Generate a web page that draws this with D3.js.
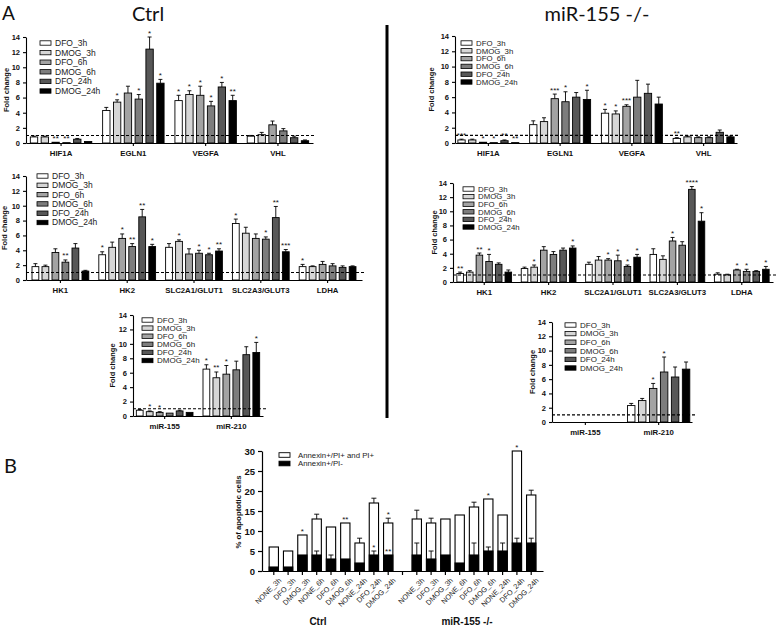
<!DOCTYPE html>
<html><head><meta charset="utf-8">
<script src="https://cdn.jsdelivr.net/npm/d3@7"></script>
<style>
body{margin:0;background:#fff;}
svg{display:block;font-family:"Liberation Sans",Arial,sans-serif;}
</style></head>
<body>
<svg id="chart" width="784" height="628"></svg>
<script>
// ---------- DATA ----------
const series = ["DFO_3h","DMOG_3h","DFO_6h","DMOG_6h","DFO_24h","DMOG_24h"];
const seriesColors = ["#ffffff","#d6d6d6","#a3a3a3","#7d7d7d","#575757","#000000"];
const foldTicks = [0,2,4,6,8,10,12,14];

// Ctrl – hypoxia genes
const ctrlHypoxiaGenes = ["HIF1A","EGLN1","VEGFA","VHL"];
const ctrlHypoxiaValues = [[0.8,0.8,0.1,0.05,0.5,0.2],[4.3,5.4,6.6,5.8,12.4,7.9],[5.6,6.4,6.3,4.9,7.4,5.6],[0.9,1.1,2.4,1.6,0.7,0.3]];
const ctrlHypoxiaErrors = [[0.1,0.1,0,0,0.1,0],[0.4,0.3,0.9,0.6,1.6,0.5],[0.7,0.5,1.2,0.6,0.6,0.7],[0.1,0.3,0.5,0.3,0.2,0.1]];
const ctrlHypoxiaStars = [["","","**","**","",""],["","*","","*","*","*"],["*","*","*","*","*","**"],["","","","","",""]];

// Ctrl – glycolysis genes
const glycolysisGenes = ["HK1","HK2","SLC2A1/GLUT1","SLC2A3/GLUT3","LDHA"];
const ctrlGlycolysisValues = [[1.8,1.8,3.7,2.4,4.3,1.2],[3.4,4.4,5.6,4.5,8.5,4.5],[4.4,5.2,3.5,3.6,3.4,3.9],[7.6,6.3,5.6,5.5,8.4,3.8],[1.8,1.8,2.1,1.9,1.7,1.8]];
const ctrlGlycolysisErrors = [[0.4,0.2,0.5,0.3,0.6,0.1],[0.4,0.7,0.6,0.4,1.0,0.3],[0.5,0.2,0.7,0.4,0.2,0.3],[0.6,0.8,0.6,0.3,1.5,0.3],[0.3,0.1,0.4,0.3,0.2,0.1]];
const ctrlGlycolysisStars = [["","","","**","",""],["*","","*","**","**","*"],["","*","","*","*","**"],["*","","","*","**","***"],["*","","","","",""]];

// Ctrl – microRNAs
const mirNames = ["miR-155","miR-210"];
const ctrlMirValues = [[0.8,0.6,0.5,0.4,0.7,0.5],[6.5,5.3,5.8,6.4,8.5,8.8]];
const ctrlMirErrors = [[0.1,0.1,0.1,0,0.1,0],[0.6,0.8,1.2,1.2,1.1,1.4]];
const ctrlMirStars = [["","*","*","","",""],["*","**","*","","","*"]];

// miR-155 -/- – hypoxia genes
const koHypoxiaValues = [[0.4,0.4,0.1,0.05,0.3,0.05],[2.4,2.8,5.8,5.4,6.0,5.7],[3.9,3.8,4.8,6.0,6.5,5.1],[0.6,0.8,0.7,0.7,1.4,0.8]];
const koHypoxiaErrors = [[0.1,0.1,0,0,0.1,0],[0.5,0.5,0.6,1.3,0.6,1.2],[0.5,0.4,0.2,2.2,1.2,0.9],[0.1,0.1,0.1,0.1,0.3,0.1]];
const koHypoxiaStars = [["***","","*","*","**","**"],["","","***","*","","*"],["*","*","***","","",""],["**","","","","",""]];

// miR-155 -/- – glycolysis genes
const koGlycolysisValues = [[1.2,1.4,3.8,2.9,2.5,1.4],[1.9,2.1,4.5,3.9,4.5,4.8],[2.5,3.1,3.1,3.0,2.2,3.5],[3.9,3.2,5.8,5.2,13.1,8.6],[1.1,1.0,1.7,1.5,1.5,1.8]];
const koGlycolysisErrors = [[0.2,0.2,0.3,1.0,0.2,0.3],[0.2,0.3,0.5,0.4,0.3,0.3],[0.3,0.5,0.2,0.8,0.2,0.4],[0.8,0.5,0.5,0.5,0.4,1.2],[0.2,0.1,0.1,0.3,0.1,0.4]];
const koGlycolysisStars = [["**","","**","*","",""],["","*","","","","*"],["","","*","*","*","*"],["","","*","","****","*"],["","","*","*","","*"]];

// miR-155 -/- – microRNAs (miR-155 not detected)
const koMirValues = [[null,null,null,null,null,null],[2.3,3.0,4.7,7.0,6.3,7.4]];
const koMirErrors = [[0,0,0,0,0,0],[0.3,0.3,0.7,2.1,1.4,1.0]];
const koMirStars = [["","","","","",""],["","","*","*","",""]];

// Panel B – apoptosis
const apoConditions = ["NONE_3h","DFO_3h","DMOG_3h","NONE_6h","DFO_6h","DMOG_6h","NONE_24h","DFO_24h","DMOG_24h"];
const apoTicks = [0,5,10,15,20,25,30];
const ctrlApoTotal = [6,5,9,13,11,12,7,17,12];
const ctrlApoTotalErr = [0,0,0,1.2,0,0,1.2,1.2,1.2];
const ctrlApoTotalStars = ["","","*","","","**","","","*"];
const ctrlApoEarly = [1,1,4,4,3,3,2,4,4];
const ctrlApoEarlyErr = [0,0,0,1,1,0,0,1,0];
const ctrlApoEarlyStars = ["","","","","","","","*","**"];
const koApoTotal = [13,12,13,14,16,18,14,30,19];
const koApoTotalErr = [2.2,1.2,0,0,1.2,0,0,0,1.2];
const koApoTotalStars = ["","","","","","*","","*",""];
const koApoEarly = [4,3,4,2,4,5,5,7,7];
const koApoEarlyErr = [3,2,0,0,3,1,2,1.2,1.2];
const koApoEarlyStars = ["","","","","","","","",""];
const apoLegend = ["Annexin+/PI+ and PI+","Annexin+/PI-"];

// ---------- DRAW ----------
const svg = d3.select("#chart");
const TXT = "#111";

function barPanel(c){
  const g = svg.append("g");
  const y = d3.scaleLinear().domain([0,14]).range([c.yBot,c.yTop]);
  const x = d3.scaleBand().domain(c.cats).range([c.x0,c.x1]).paddingInner(c.pi).paddingOuter(c.po);
  const xs = d3.scaleBand().domain(series).range([0,x.bandwidth()]).paddingInner(0.32);
  const bw = xs.bandwidth();
  c.cats.forEach((cat,i)=>{
    series.forEach((s,j)=>{
      const v = c.values[i][j];
      if(v==null) return;
      const bx = x(cat)+xs(s);
      g.append("rect").attr("x",bx).attr("y",y(v)).attr("width",bw).attr("height",y(0)-y(v))
        .attr("fill",seriesColors[j]).attr("stroke","#000").attr("stroke-width",0.9);
      const e = c.errors[i][j];
      const cx = bx+bw/2;
      if(e>0){
        g.append("line").attr("x1",cx).attr("x2",cx).attr("y1",y(v)).attr("y2",y(v+e)).attr("stroke","#000").attr("stroke-width",0.9);
        g.append("line").attr("x1",cx-2).attr("x2",cx+2).attr("y1",y(v+e)).attr("y2",y(v+e)).attr("stroke","#000").attr("stroke-width",0.9);
      }
      const st = c.stars[i][j];
      if(st){
        g.append("text").attr("x",cx).attr("y",y(v+e)-1.5).attr("text-anchor","middle")
          .attr("font-size",8).attr("fill",TXT).text(st);
      }
    });
  });
  g.append("line").attr("x1",c.x0).attr("x2",c.x1+3).attr("y1",y(1)).attr("y2",y(1))
    .attr("stroke","#000").attr("stroke-width",1.1).attr("stroke-dasharray","3,2");
  const ya = g.append("g").attr("transform",`translate(${c.x0},0)`)
    .call(d3.axisLeft(y).tickValues(foldTicks).tickSize(3).tickSizeOuter(0).tickFormat(d3.format("d")));
  ya.selectAll("text").attr("font-size",7.5).attr("font-weight","bold").attr("fill",TXT).attr("font-family","Liberation Sans, Arial, sans-serif");
  ya.selectAll("line,path").attr("stroke","#000").attr("stroke-width",1.1);
  const xa = g.append("g").attr("transform",`translate(0,${c.yBot})`)
    .call(d3.axisBottom(x).tickSize(3).tickSizeOuter(0).tickPadding(4));
  xa.selectAll("text").attr("font-size",7.8).attr("font-weight","bold").attr("fill",TXT).attr("font-family","Liberation Sans, Arial, sans-serif");
  xa.selectAll("line,path").attr("stroke","#000").attr("stroke-width",1.1);
  g.append("text").attr("transform",`translate(${c.ylabX},${(c.yTop+c.yBot)/2}) rotate(-90)`)
    .attr("text-anchor","middle").attr("font-size",7.5).attr("font-weight","bold").attr("fill",TXT).text("Fold change");
  series.forEach((s,j)=>{
    const ly = c.lg.y + j*c.lg.dy;
    g.append("rect").attr("x",c.lg.x).attr("y",ly-2.2).attr("width",11).attr("height",4.4)
      .attr("fill",seriesColors[j]).attr("stroke","#000").attr("stroke-width",0.8);
    g.append("text").attr("x",c.lg.x+15).attr("y",ly).attr("dy","0.35em").attr("font-size",c.lg.fs)
      .attr("fill","#222").text(s);
  });
}

barPanel({x0:26,x1:313,yTop:37,yBot:143,pi:0.15,po:0.06,cats:ctrlHypoxiaGenes,values:ctrlHypoxiaValues,errors:ctrlHypoxiaErrors,stars:ctrlHypoxiaStars,ylabX:9,lg:{x:40,y:43,dy:9.6,fs:8.5}});
barPanel({x0:26,x1:362,yTop:176,yBot:280,pi:0.15,po:0.09,cats:glycolysisGenes,values:ctrlGlycolysisValues,errors:ctrlGlycolysisErrors,stars:ctrlGlycolysisStars,ylabX:7,lg:{x:37,y:176,dy:9.3,fs:8.5}});
barPanel({x0:133,x1:263,yTop:315,yBot:416,pi:0.15,po:0.05,cats:mirNames,values:ctrlMirValues,errors:ctrlMirErrors,stars:ctrlMirStars,ylabX:115,lg:{x:142,y:320,dy:8.1,fs:8}});
barPanel({x0:455,x1:737,yTop:36,yBot:143,pi:0.15,po:0.04,cats:ctrlHypoxiaGenes,values:koHypoxiaValues,errors:koHypoxiaErrors,stars:koHypoxiaStars,ylabX:434,lg:{x:461,y:43,dy:7.8,fs:7.8}});
barPanel({x0:453,x1:773,yTop:183,yBot:282,pi:0.15,po:0.06,cats:glycolysisGenes,values:koGlycolysisValues,errors:koGlycolysisErrors,stars:koGlycolysisStars,ylabX:437,lg:{x:463,y:189,dy:7.6,fs:7.8}});
barPanel({x0:552,x1:692,yTop:322,yBot:422,pi:0.15,po:0.03,cats:mirNames,values:koMirValues,errors:koMirErrors,stars:koMirStars,ylabX:535,lg:{x:565,y:325,dy:8.6,fs:8}});

const titleFont = "Lato, 'Open Sans', sans-serif";
svg.append("text").attr("x",2).attr("y",20).attr("font-family",titleFont).attr("font-size",19).attr("fill","#111").text("A");
svg.append("text").attr("x",4).attr("y",473).attr("font-family",titleFont).attr("font-size",20).attr("fill","#111").text("B");
svg.append("text").attr("x",148).attr("y",21).attr("text-anchor","middle").attr("font-family",titleFont).attr("font-size",20).attr("fill","#111").text("Ctrl");
svg.append("text").attr("x",597).attr("y",21).attr("text-anchor","middle").attr("font-family",titleFont).attr("font-size",20).attr("fill","#111").text("miR-155 -/-");
svg.append("line").attr("x1",387).attr("x2",387).attr("y1",25).attr("y2",418).attr("stroke","#000").attr("stroke-width",3);

// ---------- Panel B ----------
(function(){
  const g = svg.append("g");
  const keys = apoConditions.map(d=>"Ctrl|"+d).concat(["gap|"]).concat(apoConditions.map(d=>"KO|"+d));
  const x = d3.scaleBand().domain(keys).range([262,543]).paddingInner(0.35).paddingOuter(0.5);
  const y = d3.scaleLinear().domain([0,30]).range([571,451]);
  const bw = x.bandwidth();
  function errBar(cx,v,e){
    g.append("line").attr("x1",cx).attr("x2",cx).attr("y1",y(v)).attr("y2",y(v+e)).attr("stroke","#000").attr("stroke-width",0.9);
    g.append("line").attr("x1",cx-2.5).attr("x2",cx+2.5).attr("y1",y(v+e)).attr("y2",y(v+e)).attr("stroke","#000").attr("stroke-width",0.9);
  }
  function group(prefix,total,totalErr,totalStars,early,earlyErr,earlyStars){
    apoConditions.forEach((d,i)=>{
      const bx = x(prefix+"|"+d), cx = bx+bw/2;
      g.append("rect").attr("x",bx).attr("y",y(total[i])).attr("width",bw).attr("height",y(0)-y(total[i]))
        .attr("fill","#fff").attr("stroke","#000").attr("stroke-width",1.1);
      g.append("rect").attr("x",bx).attr("y",y(early[i])).attr("width",bw).attr("height",y(0)-y(early[i]))
        .attr("fill","#000").attr("stroke","#000").attr("stroke-width",1.1);
      if(totalErr[i]>0) errBar(cx,total[i],totalErr[i]);
      if(earlyErr[i]>0) errBar(cx,early[i],earlyErr[i]);
      if(totalStars[i]) g.append("text").attr("x",cx).attr("y",y(total[i]+totalErr[i])-1.5).attr("text-anchor","middle").attr("font-size",8).attr("fill",TXT).text(totalStars[i]);
      if(earlyStars[i]) g.append("text").attr("x",cx).attr("y",y(early[i]+earlyErr[i])-1.5).attr("text-anchor","middle").attr("font-size",8).attr("fill",TXT).text(earlyStars[i]);
    });
  }
  group("Ctrl",ctrlApoTotal,ctrlApoTotalErr,ctrlApoTotalStars,ctrlApoEarly,ctrlApoEarlyErr,ctrlApoEarlyStars);
  group("KO",koApoTotal,koApoTotalErr,koApoTotalStars,koApoEarly,koApoEarlyErr,koApoEarlyStars);
  const ya = g.append("g").attr("transform","translate(262,0)")
    .call(d3.axisLeft(y).tickValues(apoTicks).tickSize(4).tickSizeOuter(0));
  ya.selectAll("text").attr("font-size",9.5).attr("font-weight","bold").attr("fill",TXT).attr("font-family","Liberation Sans, Arial, sans-serif");
  ya.selectAll("line,path").attr("stroke","#000").attr("stroke-width",1.2);
  const xa = g.append("g").attr("transform","translate(0,571)")
    .call(d3.axisBottom(x).tickSize(4).tickSizeOuter(0).tickFormat(d=>d.split("|")[1]));
  xa.selectAll("text").attr("font-size",7.3).attr("fill","#222").attr("opacity",0.99).attr("font-family","Liberation Sans, Arial, sans-serif")
    .attr("text-anchor","end").attr("dy","0.2em").attr("transform","translate(2,4) rotate(-45)");
  xa.selectAll("line,path").attr("stroke","#000").attr("stroke-width",1.2);
  g.append("text").attr("transform","translate(241,512) rotate(-90)").attr("text-anchor","middle")
    .attr("font-size",7.8).attr("font-weight","bold").attr("fill",TXT).text("% of apoptotic cells");
  g.append("text").attr("x",318).attr("y",625).attr("text-anchor","middle").attr("font-size",10).attr("font-weight","bold").attr("fill",TXT).text("Ctrl");
  g.append("text").attr("x",467).attr("y",625).attr("text-anchor","middle").attr("font-size",10).attr("font-weight","bold").attr("fill",TXT).text("miR-155 -/-");
  const lgFill = ["#fff","#000"];
  apoLegend.forEach((t,i)=>{
    const ly = 455 + i*8.5;
    g.append("rect").attr("x",279).attr("y",ly-2.3).attr("width",11).attr("height",4.6).attr("fill",lgFill[i]).attr("stroke","#000").attr("stroke-width",0.9);
    g.append("text").attr("x",298).attr("y",ly).attr("dy","0.35em").attr("font-size",7.8).attr("fill","#222").text(t);
  });
})();
</script>
</body></html>
